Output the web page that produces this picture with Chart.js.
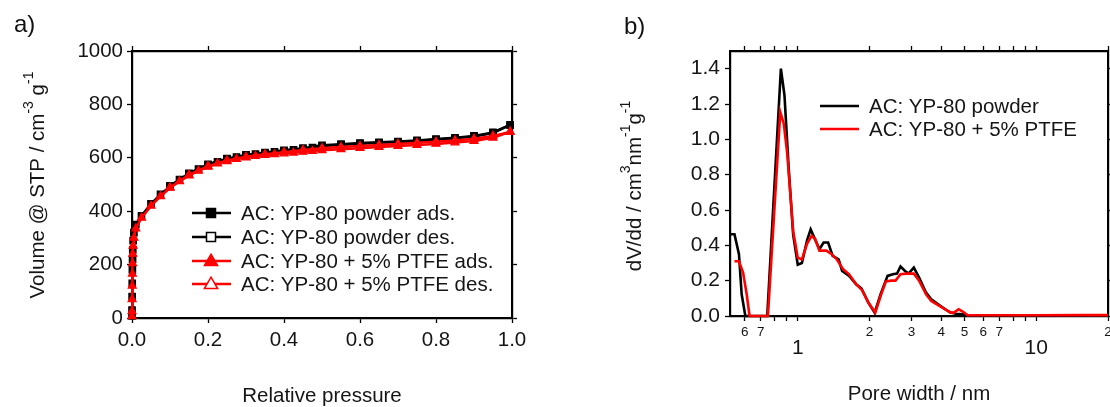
<!DOCTYPE html>
<html><head><meta charset="utf-8">
<script src="https://cdn.jsdelivr.net/npm/chart.js@4/dist/chart.umd.min.js"></script>
<style>
html,body{margin:0;padding:0;background:#fff;}
#wrap{position:relative;width:1110px;height:407px;overflow:hidden;font-family:"Liberation Sans",Arial,Helvetica,sans-serif;background:#fff;}
.box{position:absolute;top:0;height:407px;}
#c1box{left:0;width:545px;}
#c2box{left:560px;width:550px;}
.panel{position:absolute;font-size:24px;line-height:24px;color:#111;}
</style></head>
<body><div id="wrap">
<div class="box" id="c1box"><canvas id="c1" width="545" height="407"></canvas></div>
<div class="box" id="c2box"><canvas id="c2" width="550" height="407"></canvas></div>
<div class="panel" style="left:14px;top:12px">a)</div>
<div class="panel" style="left:624px;top:14px">b)</div>
</div>
<script>
// ---------- Panel a) : N2 isotherm ----------
const powderAdsP = [0.00002,0.0001,0.0003,0.0006,0.001,0.0015,0.002,0.003,0.005,0.01,0.025,0.05,0.075,0.1,0.125,0.15,0.175,0.2,0.225,0.25,0.275,0.3,0.325,0.35,0.375,0.4,0.425,0.45,0.475,0.5,0.55,0.6,0.65,0.7,0.75,0.8,0.85,0.9,0.95,0.995];
const powderAdsV = [8,30,80,130,180,220,255,290,320,350,383,428,463,493,518,540,558,574,585,595,603,609,614,618,622,626,630,633,638,644,649,653,656,659,663,668,673,680,693,723];
const powderDesP = [0.995,0.95,0.9,0.85,0.8,0.75,0.7,0.65,0.6,0.55,0.5,0.45,0.4,0.35,0.3,0.25,0.2,0.15,0.1];
const powderDesV = [723,695,682,675,670,665,661,658,655,651,647,636,628,620,611,597,576,542,495];
const ptfeAdsP = powderAdsP;
const ptfeAdsV = [6,25,70,120,165,205,240,270,300,335,375,420,456,487,512,533,551,566,578,587,595,601,606,610,613,616,619,622,625,628,632,636,640,644,648,652,657,663,675,697];
const ptfeDesP = [0.995,0.95,0.9,0.85,0.8,0.75,0.7,0.65,0.6,0.55,0.5,0.45,0.4,0.35,0.3,0.25,0.2,0.15,0.1];
const ptfeDesV = [697,682,671,665,660,656,652,648,644,640,636,629,621,613,604,590,569,536,489];
const xTicksA = [0,0.2,0.4,0.6,0.8,1.0];
const yTicksA = [0,200,400,600,800,1000];
const legendA = ['AC: YP-80 powder ads.','AC: YP-80 powder des.','AC: YP-80 + 5% PTFE ads.','AC: YP-80 + 5% PTFE des.'];

// ---------- Panel b) : pore size distribution ----------
const poreW_powder = [0.52,0.543,0.567,0.582,0.603,0.745,0.85,0.88,0.916,0.957,1.0,1.041,1.095,1.133,1.172,1.233,1.284,1.341,1.401,1.484,1.535,1.643,1.757,1.849,1.978,2.102,2.226,2.381,2.505,2.609,2.698,2.818,2.916,3.068,3.228,3.453,3.63,3.88,4.156,4.373,4.6,4.92,5.26,7,10,15,20];
const dV_powder = [0.463,0.463,0.35,0.123,0,0,1.40,1.249,0.84,0.46,0.29,0.30,0.43,0.49,0.445,0.378,0.416,0.416,0.34,0.32,0.255,0.227,0.18,0.157,0.076,0.019,0.123,0.227,0.236,0.24,0.28,0.255,0.24,0.274,0.218,0.132,0.095,0.066,0.038,0.019,0.013,0.009,0.002,0.002,0.002,0.003,0.003];
const poreW_ptfe = [0.543,0.567,0.59,0.611,0.628,0.75,0.845,0.874,0.904,0.957,1.0,1.041,1.095,1.144,1.184,1.233,1.318,1.388,1.459,1.55,1.643,1.757,1.86,1.978,2.115,2.226,2.34,2.46,2.57,2.698,2.866,3.068,3.228,3.453,3.63,3.88,4.156,4.373,4.52,4.73,4.92,5.16,7,10,15,20];
const dV_ptfe = [0.31,0.31,0.246,0.123,0,0,1.154,1.088,0.918,0.48,0.33,0.32,0.41,0.454,0.435,0.37,0.37,0.35,0.32,0.265,0.236,0.18,0.146,0.076,0.019,0.113,0.195,0.2,0.2,0.236,0.24,0.24,0.2,0.123,0.085,0.062,0.038,0.019,0.019,0.038,0.025,0.004,0.004,0.004,0.005,0.005];
const xTicksB = [0.6,0.7,0.8,0.9,1,2,3,4,5,6,7,8,9,10,20];
const xTickLabelsB = ['6','7','','','1','2','3','4','5','6','7','','','10','2'];
const xMajorB = [1,10];
const yTicksB = [0,0.2,0.4,0.6,0.8,1.0,1.2,1.4];
const legendB = ['AC: YP-80 powder','AC: YP-80 + 5% PTFE'];

const FAM = '"Liberation Sans", Arial, Helvetica, sans-serif';
const TXT = '#151515';
const RED = '#ff0000';
const pts = (xs, ys) => xs.map((x, i) => ({x: x, y: ys[i]}));

function frameAxis(extra) {
  return Object.assign({
    grid: {display: true, drawOnChartArea: false, drawTicks: true, tickLength: 5, tickColor: '#000', tickWidth: 1.3},
    border: {display: true, color: '#000', width: 2.2}
  }, extra);
}

function drawRichVertical(ctx, cx, cy, parts, size, supSize, supRise) {
  ctx.save();
  ctx.translate(cx, cy);
  ctx.rotate(-Math.PI / 2);
  ctx.fillStyle = TXT;
  ctx.textBaseline = 'middle';
  ctx.textAlign = 'left';
  let total = 0;
  parts.forEach(p => {
    ctx.font = (p.sup ? supSize : size) + 'px ' + FAM;
    p.w = ctx.measureText(p.t).width;
    total += p.w;
  });
  let x = -total / 2;
  parts.forEach(p => {
    ctx.font = (p.sup ? supSize : size) + 'px ' + FAM;
    ctx.fillText(p.t, x, p.sup ? -supRise : 0);
    x += p.w;
  });
  ctx.restore();
}

function marker(ctx, type, x, y, color, filled, size) {
  ctx.beginPath();
  if (type === 'rect') {
    ctx.rect(x - size / 2, y - size / 2, size, size);
  } else {
    ctx.moveTo(x, y - size * 0.62);
    ctx.lineTo(x + size * 0.6, y + size * 0.42);
    ctx.lineTo(x - size * 0.6, y + size * 0.42);
    ctx.closePath();
  }
  ctx.fillStyle = filled ? color : '#fff';
  ctx.fill();
  ctx.lineWidth = 1.5;
  ctx.strokeStyle = color;
  ctx.stroke();
}

// ---------- Chart a ----------
const styleA = [
  {color: '#000', type: 'rect', filled: true},
  {color: '#000', type: 'rect', filled: false},
  {color: RED, type: 'triangle', filled: true},
  {color: RED, type: 'triangle', filled: false}
];
const decoA = {
  id: 'decoA',
  afterDraw(chart) {
    const ctx = chart.ctx;
    drawRichVertical(ctx, 38, 185,
      [{t: 'Volume @ STP / cm'}, {t: '-3', sup: true}, {t: ' g'}, {t: '-1', sup: true}], 20.5, 14, 9);
    ctx.save();
    ctx.fillStyle = '#fff';
    ctx.fillRect(188, 200, 320, 97);
    const rows = [213, 237, 261, 284];
    legendA.forEach((lab, i) => {
      const s = styleA[i], y = rows[i];
      ctx.beginPath();
      ctx.moveTo(192, y); ctx.lineTo(231, y);
      ctx.lineWidth = 2.5; ctx.strokeStyle = s.color; ctx.stroke();
      marker(ctx, s.type, 211, y, s.color, s.filled, s.type === 'rect' ? 9 : 11);
      ctx.fillStyle = TXT;
      ctx.font = '20.5px ' + FAM;
      ctx.textBaseline = 'middle';
      ctx.textAlign = 'left';
      ctx.fillText(lab, 241, y + 1);
    });
    ctx.restore();
  }
};

function dsA(label, xs, ys, i, order) {
  const s = styleA[i];
  return {
    label: label, data: pts(xs, ys), showLine: true, order: order,
    borderColor: s.color, borderWidth: 2.5,
    pointStyle: s.type, pointRadius: 4.5,
    pointBackgroundColor: s.filled ? s.color : '#fff',
    pointBorderColor: s.color, pointBorderWidth: 1.3,
    tension: 0, clip: false
  };
}

new Chart(document.getElementById('c1'), {
  type: 'scatter',
  data: {datasets: [
    dsA(legendA[2], ptfeAdsP, ptfeAdsV, 2, 0),
    dsA(legendA[3], ptfeDesP, ptfeDesV, 3, 1),
    dsA(legendA[0], powderAdsP, powderAdsV, 0, 2),
    dsA(legendA[1], powderDesP, powderDesV, 1, 3)
  ]},
  options: {
    responsive: false, devicePixelRatio: 1, animation: false,
    layout: {padding: 0},
    plugins: {legend: {display: false}, tooltip: {enabled: false}},
    scales: {
      x: frameAxis({type: 'linear', position: 'bottom', min: 0, max: 1,
        afterBuildTicks: s => { s.ticks = xTicksA.map(v => ({value: v})); },
        ticks: {callback: v => v.toFixed(1), font: {family: FAM, size: 20.5}, color: TXT, padding: 5, maxRotation: 0, autoSkip: false},
        title: {display: true, text: 'Relative pressure', font: {family: FAM, size: 20.5, lineHeight: 1}, color: TXT, padding: 0},
        afterFit: s => { s.height = 89; s.paddingLeft = 0; s.paddingRight = 0; }
      }),
      x2: frameAxis({type: 'linear', position: 'top', min: 0, max: 1,
        afterBuildTicks: s => { s.ticks = xTicksA.map(v => ({value: v})); },
        ticks: {display: false},
        afterFit: s => { s.height = 51; s.paddingLeft = 0; s.paddingRight = 0; }
      }),
      y: frameAxis({type: 'linear', position: 'left', min: 0, max: 1000,
        afterBuildTicks: s => { s.ticks = yTicksA.map(v => ({value: v})); },
        ticks: {callback: v => String(v), font: {family: FAM, size: 20.5}, color: TXT, padding: 4},
        afterFit: s => { s.width = 132; s.paddingTop = 0; s.paddingBottom = 0; }
      }),
      y2: frameAxis({type: 'linear', position: 'right', min: 0, max: 1000,
        afterBuildTicks: s => { s.ticks = yTicksA.map(v => ({value: v})); },
        ticks: {display: false},
        afterFit: s => { s.width = 33; s.paddingTop = 0; s.paddingBottom = 0; }
      })
    }
  },
  plugins: [decoA]
});

// ---------- Chart b ----------
const decoB = {
  id: 'decoB',
  afterDraw(chart) {
    const ctx = chart.ctx;
    drawRichVertical(ctx, 75, 186,
      [{t: 'dV/dd / cm'}, {t: '3', sup: true}, {t: 'nm'}, {t: '-1', sup: true}, {t: 'g'}, {t: '-1', sup: true}], 20.5, 14, 9);
    ctx.save();
    ctx.fillStyle = '#fff';
    ctx.fillRect(256, 92, 272, 50);
    const rows = [106, 129];
    const cols = ['#000', RED];
    legendB.forEach((lab, i) => {
      const y = rows[i];
      ctx.beginPath();
      ctx.moveTo(260, y); ctx.lineTo(299, y);
      ctx.lineWidth = 2.6; ctx.strokeStyle = cols[i]; ctx.stroke();
      ctx.fillStyle = TXT;
      ctx.font = '20.5px ' + FAM;
      ctx.textBaseline = 'middle';
      ctx.textAlign = 'left';
      ctx.fillText(lab, 309, y + 1);
    });
    ctx.restore();
  }
};

const isMajorB = v => xMajorB.some(m => Math.abs(m - v) < 1e-9);

new Chart(document.getElementById('c2'), {
  type: 'scatter',
  data: {datasets: [
    {label: legendB[1], data: pts(poreW_ptfe, dV_ptfe), showLine: true, order: 0,
     borderColor: RED, borderWidth: 2.6, pointRadius: 0, tension: 0, clip: false},
    {label: legendB[0], data: pts(poreW_powder, dV_powder), showLine: true, order: 1,
     borderColor: '#000', borderWidth: 2.6, pointRadius: 0, tension: 0, clip: false}
  ]},
  options: {
    responsive: false, devicePixelRatio: 1, animation: false,
    layout: {padding: 0},
    plugins: {legend: {display: false}, tooltip: {enabled: false}},
    scales: {
      x: frameAxis({type: 'logarithmic', position: 'bottom', min: 0.52, max: 20,
        afterBuildTicks: s => { s.ticks = xTicksB.map(v => ({value: v})); },
        ticks: {
          callback: (v, i) => isMajorB(xTicksB[i]) ? ['', xTickLabelsB[i]] : xTickLabelsB[i],
          font: c => (c.tick && isMajorB(c.tick.value)) ? {family: FAM, size: 21, lineHeight: '16px'} : {family: FAM, size: 13.5, lineHeight: 1.2},
          color: TXT, padding: 3, maxRotation: 0, autoSkip: false
        },
        title: {display: true, text: 'Pore width / nm', font: {family: FAM, size: 20.5, lineHeight: 1.2}, color: TXT, padding: 0},
        afterFit: s => { s.height = 91; s.paddingLeft = 0; s.paddingRight = 0; }
      }),
      x2: frameAxis({type: 'logarithmic', position: 'top', min: 0.52, max: 20,
        afterBuildTicks: s => { s.ticks = xTicksB.map(v => ({value: v})); },
        ticks: {display: false},
        afterFit: s => { s.height = 51; s.paddingLeft = 0; s.paddingRight = 0; }
      }),
      y: frameAxis({type: 'linear', position: 'left', min: 0, max: 1.5,
        afterBuildTicks: s => { s.ticks = yTicksB.map(v => ({value: v})); },
        ticks: {callback: v => v.toFixed(1), font: {family: FAM, size: 21}, color: TXT, padding: 5},
        afterFit: s => { s.width = 170; s.paddingTop = 0; s.paddingBottom = 0; }
      }),
      y2: frameAxis({type: 'linear', position: 'right', min: 0, max: 1.5,
        afterBuildTicks: s => { s.ticks = yTicksB.map(v => ({value: v})); },
        ticks: {display: false},
        afterFit: s => { s.width = 2; s.paddingTop = 0; s.paddingBottom = 0; }
      })
    }
  },
  plugins: [decoB]
});
</script>
</body></html>
